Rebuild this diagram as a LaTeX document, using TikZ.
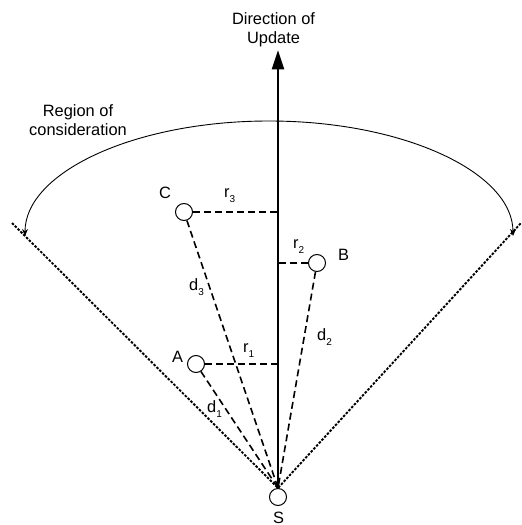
\documentclass[tikz,border=0pt]{standalone}
\usepackage{fontspec}
\setmainfont{Liberation Sans}
\usetikzlibrary{arrows.meta,positioning}
\newcommand{\idx}[1]{\raisebox{-5.5pt}{\fontsize{10}{10}\selectfont#1}}

\begin{document}
\begin{tikzpicture}[x=1pt,y=-1pt,
  txt/.style={font=\fontsize{16.4}{19.5}\selectfont,inner sep=0pt},
  lbl/.style={txt,anchor=base west},
  site/.style={draw,circle,minimum size=17pt,inner sep=0pt,line width=1pt},
  spoke/.style={line width=1.6pt,dash pattern=on 7pt off 4pt},
  edge/.style={line width=1.9pt,dash pattern=on 2.5pt off 1.5pt},
  axis/.style={line width=2.2pt,-{Triangle[length=19pt,width=12pt]}},
  sweep/.style={line width=0.9pt,{Stealth[length=7pt,width=6pt]}-{Stealth[length=7pt,width=6pt]}}]
  \useasboundingbox (0,0) rectangle (522,525);
  % Sites
  \node[site] (S) at (278,497) {};
  \node[site] (A) at (196,364) {};
  \node[site] (B) at (317,263) {};
  \node[site] (C) at (184,212) {};
  \node[lbl] (Slbl) at (273,523) {S};
  \node[lbl] (Albl) at (172,362) {A};
  \node[lbl] (Blbl) at (338,260) {B};
  \node[lbl] (Clbl) at (159,198) {C};
  % Direction of update
  \node[txt,align=center] (dir) at (273.5,29.7) {Direction of\\Update};
  \draw[axis,shorten >=3pt] (S.north) -- (S.north |- dir.south);
  % Region of consideration
  \coordinate (edgeL) at (12,223);
  \coordinate (edgeR) at (521,223);
  \draw[edge] (edgeL) -- (S.north) -- (edgeR);
  \coordinate (arcL) at (25,236);
  \draw[sweep] (arcL) arc[start angle=180,end angle=360,x radius=244,y radius=115];
  \node[txt,align=center] (region) at (78,120) {Region of\\consideration};
  % Distances to S
  \draw[spoke] (A) -- (S.north);
  \draw[spoke] (B) -- (S.north);
  \draw[spoke] (C) -- (S.north);
  \node[lbl] (d1) at (207,412) {d\idx{1}};
  \node[lbl] (d2) at (317,340) {d\idx{2}};
  \node[lbl] (d3) at (189,290) {d\idx{3}};
  % Offsets from the axis
  \draw[spoke] (A) -- (A -| S);
  \draw[spoke] (B) -- (B -| S);
  \draw[spoke] (C) -- (C -| S);
  \node[lbl] (r1) at (243,352) {r\idx{1}};
  \node[lbl] (r2) at (293,248) {r\idx{2}};
  \node[lbl] (r3) at (224,197) {r\idx{3}};
\end{tikzpicture}
\end{document}
